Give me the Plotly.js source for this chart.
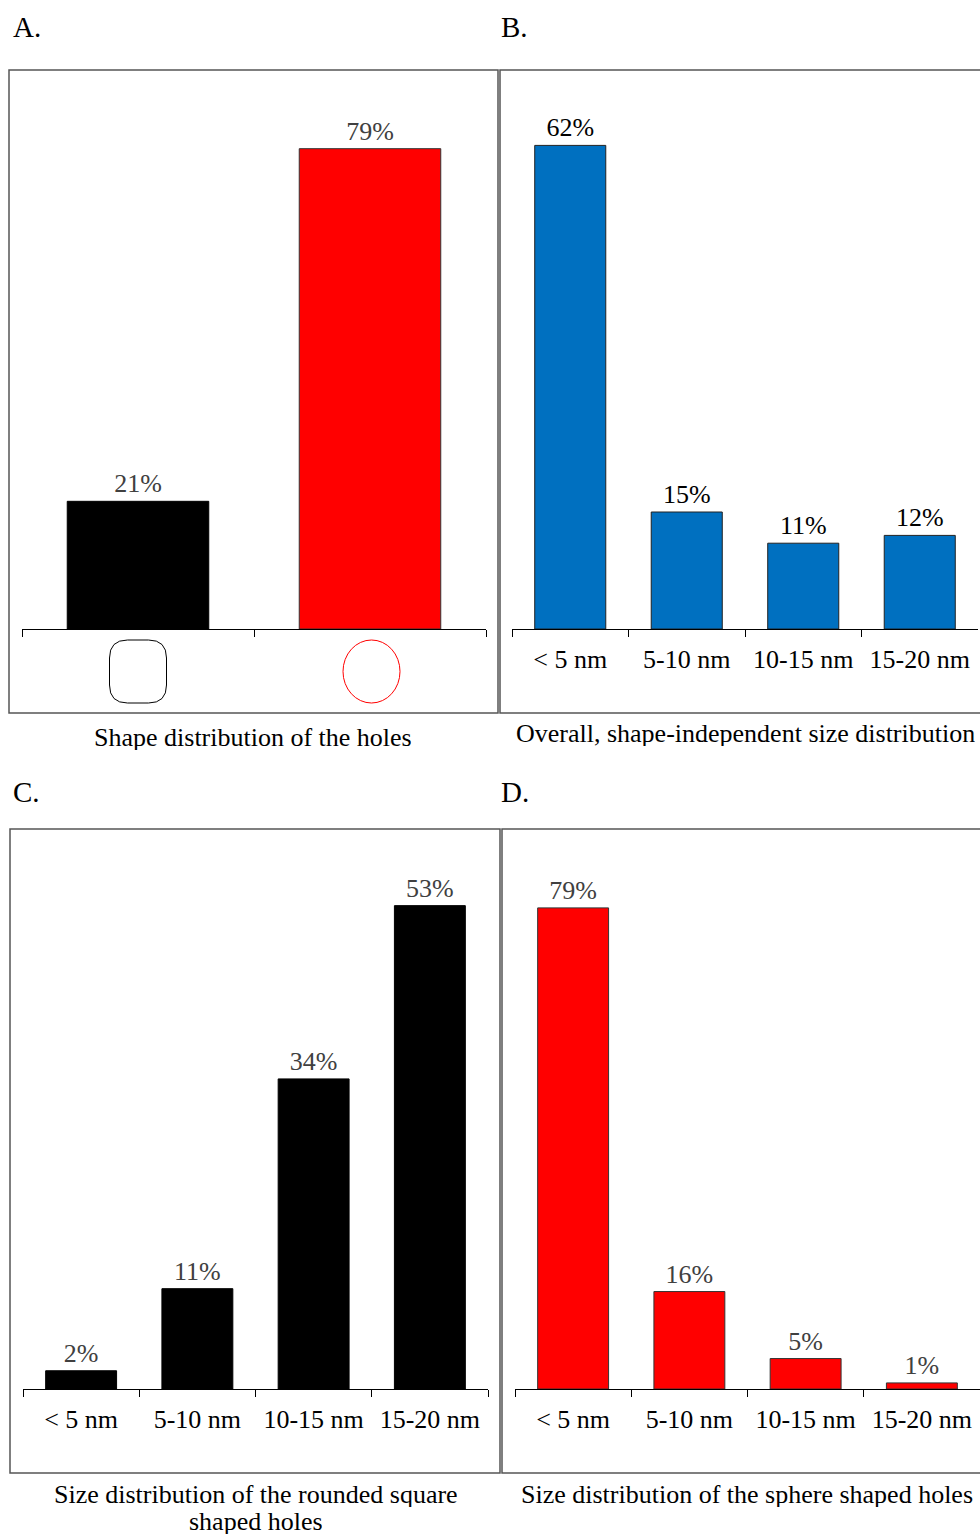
<!DOCTYPE html>
<html>
<head>
<meta charset="utf-8">
<script src="https://cdn.plot.ly/plotly-3.0.1.min.js"></script>
<style>html,body{margin:0;padding:0;background:#fff;}#chart{width:980px;height:1535px;}</style>
</head>
<body>
<div id="chart"></div>
<script>
// ---- data ----
var shapeCategories = ["Rounded square", "Sphere"];
var shapeValues = [21, 79];
var sizeCategories = ["< 5 nm", "5-10 nm", "10-15 nm", "15-20 nm"];
var overallValues = [62, 15, 11, 12];
var roundedSquareValues = [2, 11, 34, 53];
var sphereValues = [79, 16, 5, 1];
var panelLetters = ["A.", "B.", "C.", "D."];
var captionLines = [
  "Shape distribution of the holes",
  "Overall, shape-independent size distribution",
  "Size distribution of the rounded square",
  "shaped holes",
  "Size distribution of the sphere shaped holes"
];

// ---- layout helpers ----
var W = 980, H = 1535;
function fx(p){ return p / W; }
function fy(p){ return 1 - p / H; }
var FONT = "Liberation Serif, Times New Roman, serif";
var GRAY = "#404040";

function barTrace(x, y, colors, lineColors, textColor, xa, ya){
  return {
    type: "bar", x: x, y: y, xaxis: xa, yaxis: ya,
    marker: {color: colors, line: {color: lineColors, width: 1}},
    texttemplate: "%{y}%", textposition: "outside", cliponaxis: false,
    textfont: {family: FONT, size: 26, color: textColor},
    hoverinfo: "skip"
  };
}

var data = [
  barTrace(shapeCategories, shapeValues, ["#000000", "#FF0000"], ["#000000", "#333333"], GRAY, "x", "y"),
  barTrace(sizeCategories, overallValues, "#0070C0", "#222222", "#000000", "x2", "y2"),
  barTrace(sizeCategories, roundedSquareValues, "#000000", "#000000", GRAY, "x3", "y3"),
  barTrace(sizeCategories, sphereValues, "#FF0000", "#333333", GRAY, "x4", "y4")
];

function xAxis(l, r, anchor, n, showLabels){
  return {
    domain: [fx(l), fx(r)], anchor: anchor, type: "category",
    range: [-0.5, n - 0.5], tickson: "boundaries", ticks: "outside", ticklen: 7,
    tickcolor: "#000", tickwidth: 1,
    showline: true, linecolor: "#000", linewidth: 1,
    showgrid: false, zeroline: false, fixedrange: true,
    showticklabels: showLabels, ticklabelstandoff: 7,
    tickfont: {family: FONT, size: 26, color: "#000"}
  };
}
function yAxis(base, top, pxPerUnit, anchor){
  return {
    domain: [fy(base), fy(top)], anchor: anchor,
    range: [0, (base - top) / pxPerUnit],
    visible: false, showgrid: false, zeroline: false, fixedrange: true
  };
}

var border = {color: "#555555", width: 1.5};
var shapes = [
  {type: "rect", xref: "paper", yref: "paper", x0: fx(9), x1: fx(498), y0: fy(713), y1: fy(70), line: border},
  {type: "rect", xref: "paper", yref: "paper", x0: fx(500), x1: fx(990), y0: fy(713), y1: fy(70), line: border},
  {type: "rect", xref: "paper", yref: "paper", x0: fx(10), x1: fx(500), y0: fy(1473), y1: fy(829), line: border},
  {type: "rect", xref: "paper", yref: "paper", x0: fx(502), x1: fx(990), y0: fy(1473), y1: fy(829), line: border}
];
// icons under the categories of panel A
var w = 28.5, h = 31.5, r = 18;
var rsPath = "M " + (-w + r) + "," + (-h) + " L " + (w - r) + "," + (-h) +
  " Q " + w + "," + (-h) + " " + w + "," + (-h + r) +
  " L " + w + "," + (h - r) + " Q " + w + "," + h + " " + (w - r) + "," + h +
  " L " + (-w + r) + "," + h + " Q " + (-w) + "," + h + " " + (-w) + "," + (h - r) +
  " L " + (-w) + "," + (-h + r) + " Q " + (-w) + "," + (-h) + " " + (-w + r) + "," + (-h) + " Z";
shapes.push({type: "path", xref: "x", yref: "paper", xsizemode: "pixel", ysizemode: "pixel",
  xanchor: shapeCategories[0], yanchor: fy(671.5), path: rsPath,
  line: {color: "#000000", width: 1}});
shapes.push({type: "circle", xref: "x", yref: "paper", xsizemode: "pixel", ysizemode: "pixel",
  xanchor: shapeCategories[1], yanchor: fy(671.5), x0: -27, x1: 30, y0: -31.5, y1: 31.5,
  line: {color: "#FF0000", width: 1}});

var annotations = [];
var letterPos = [[11, 27], [499, 27], [11, 792], [499, 792]];
letterPos.forEach(function(p, i){
  annotations.push({xref: "paper", yref: "paper", x: fx(p[0]), y: fy(p[1]),
    xanchor: "left", yanchor: "middle", showarrow: false, text: panelLetters[i],
    font: {family: FONT, size: 29, color: "#000"}});
});
var capPos = [[253, 737], [745, 733], [256, 1494], [256, 1521], [747, 1494]];
capPos.forEach(function(p, i){
  annotations.push({xref: "paper", yref: "paper", x: fx(p[0]), y: fy(p[1]),
    xanchor: "center", yanchor: "middle", showarrow: false, text: captionLines[i],
    height: 26, borderpad: 0,
    font: {family: FONT, size: 26, color: "#000"}});
});

var layout = {
  width: W, height: H, margin: {l: 0, r: 0, t: 0, b: 0},
  paper_bgcolor: "#fff", plot_bgcolor: "rgba(0,0,0,0)",
  showlegend: false, bargap: 0.39,
  font: {family: FONT, size: 26, color: "#000"},
  xaxis: xAxis(22, 486, "y", 2, false),
  yaxis: yAxis(629, 80, 6.08, "x"),
  xaxis2: xAxis(512, 978, "y2", 4, true),
  yaxis2: yAxis(629, 80, 7.8, "x2"),
  xaxis3: xAxis(23, 488, "y3", 4, true),
  yaxis3: yAxis(1389, 840, 9.12, "x3"),
  xaxis4: xAxis(515, 980, "y4", 4, true),
  yaxis4: yAxis(1389, 840, 6.09, "x4"),
  shapes: shapes, annotations: annotations
};

Plotly.newPlot("chart", data, layout, {staticPlot: true, displayModeBar: false});
</script>
</body>
</html>
